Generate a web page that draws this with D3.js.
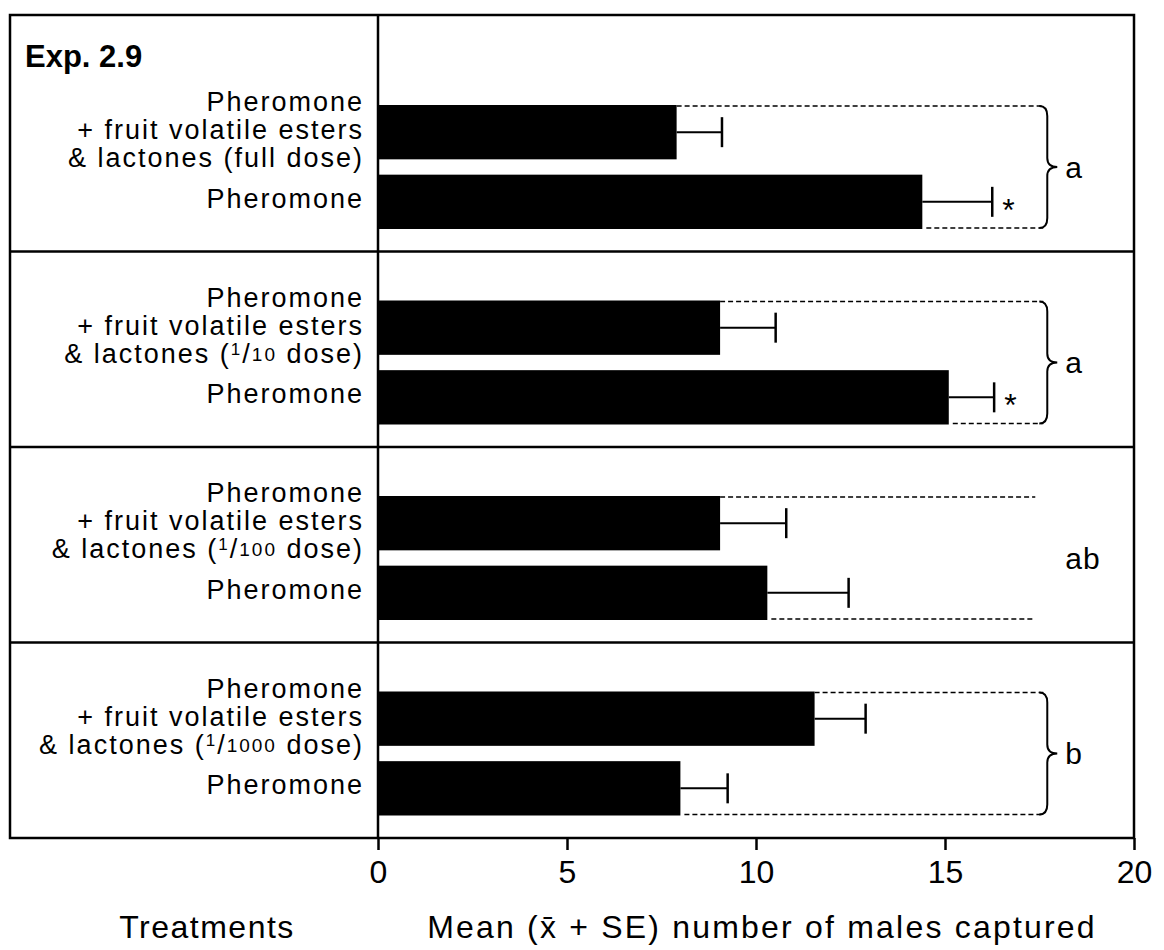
<!DOCTYPE html>
<html>
<head>
<meta charset="utf-8">
<script src="https://cdn.jsdelivr.net/npm/d3@7"></script>
<style>
  html, body { margin: 0; padding: 0; background: #fff; }
  svg { display: block; }
</style>
</head>
<body>
<div id="chart"></div>
<script>
// ---- data ----
const doses = ["full", "1/10", "1/100", "1/1000"];
const blendMean = [7.9, 9.05, 9.05, 11.55];
const blendSE = [1.2, 1.47, 1.75, 1.35];
const pheroMean = [14.4, 15.1, 10.3, 8.0];
const pheroSE = [1.85, 1.2, 2.15, 1.25];
const pheroStar = [true, true, false, false];
const groupLetters = ["a", "a", "ab", "b"];
const hasBrace = [true, true, false, true];
const xTicks = [0, 5, 10, 15, 20];
const braceAt = 17.6; // x value where the dashed guides end

// ---- layout ----
const W = 1164, H = 950;
const frame = { left: 10, right: 1134, top: 15, bottom: 838 };
const headerH = 41;
const FONT = "'Liberation Sans', Arial, Helvetica, sans-serif";

const svg = d3.select("#chart").append("svg")
    .attr("width", W)
    .attr("height", H)
    .style("background", "#fff");

const x = d3.scaleLinear().domain([0, 20]).range([378, frame.right]);

const panelY = d3.scaleBand()
    .domain(d3.range(doses.length))
    .range([frame.top + headerH, frame.bottom])
    .padding(0);

const barY = d3.scaleBand()
    .domain([0, 1])
    .paddingInner(0.22)
    .paddingOuter(0);

const panels = doses.map((dose, i) => {
    const top = i === 0 ? frame.top : panelY(i);
    const start = panelY(i);
    barY.range([start + 49, start + 173]);
    return {
        i, dose, top,
        bars: [
            { mean: blendMean[i], se: blendSE[i], star: false, y: barY(0), h: barY.bandwidth() },
            { mean: pheroMean[i], se: pheroSE[i], star: pheroStar[i], y: barY(1), h: barY.bandwidth() }
        ]
    };
});

// ---- frame & separators ----
const frameG = svg.append("g")
    .attr("stroke", "#000")
    .attr("stroke-width", 2.5)
    .attr("fill", "none");

frameG.append("rect")
    .attr("x", frame.left)
    .attr("y", frame.top)
    .attr("width", frame.right - frame.left)
    .attr("height", frame.bottom - frame.top);

frameG.selectAll("line.sep")
    .data(panels.slice(1))
    .join("line")
    .attr("class", "sep")
    .attr("x1", frame.left).attr("x2", frame.right)
    .attr("y1", d => d.top).attr("y2", d => d.top);

frameG.append("line")
    .attr("x1", x(0)).attr("x2", x(0))
    .attr("y1", frame.top).attr("y2", frame.bottom);

// ---- x axis ----
const axis = svg.append("g")
    .attr("transform", `translate(0,${frame.bottom})`)
    .call(d3.axisBottom(x).tickValues(xTicks).tickSize(12).tickPadding(10).tickFormat(d3.format("d")));
axis.select(".domain").remove();
axis.selectAll(".tick line").attr("stroke", "#000").attr("stroke-width", 2.5);
axis.selectAll(".tick text")
    .attr("fill", "#000")
    .style("font-family", FONT)
    .style("font-size", "32px");

// ---- bars, error bars, guides ----
const plot = svg.append("g");

panels.forEach(p => {
    const g = plot.append("g");
    const [b1, b2] = p.bars;

    g.selectAll("rect")
        .data(p.bars)
        .join("rect")
        .attr("x", x(0))
        .attr("y", d => d.y)
        .attr("width", d => x(d.mean) - x(0))
        .attr("height", d => d.h)
        .attr("fill", "#000");

    // error bars
    g.selectAll("line.err")
        .data(p.bars)
        .join("line")
        .attr("class", "err")
        .attr("x1", d => x(d.mean))
        .attr("x2", d => x(d.mean + d.se))
        .attr("y1", d => d.y + d.h / 2)
        .attr("y2", d => d.y + d.h / 2)
        .attr("stroke", "#000").attr("stroke-width", 2);
    g.selectAll("line.cap")
        .data(p.bars)
        .join("line")
        .attr("class", "cap")
        .attr("x1", d => x(d.mean + d.se))
        .attr("x2", d => x(d.mean + d.se))
        .attr("y1", d => d.y + d.h / 2 - 15)
        .attr("y2", d => d.y + d.h / 2 + 15)
        .attr("stroke", "#000").attr("stroke-width", 2.5);

    g.selectAll("text.star")
        .data(p.bars.filter(d => d.star))
        .join("text")
        .attr("class", "star")
        .attr("x", d => x(d.mean + d.se) + 10)
        .attr("y", d => d.y + d.h / 2 + 19)
        .style("font-family", FONT)
        .style("font-size", "32px")
        .text("*");

    // dashed guides
    const guideEnd = hasBrace[p.i] ? x(braceAt) : x(braceAt) - 8;
    g.append("line")
        .attr("x1", x(b1.mean)).attr("x2", guideEnd)
        .attr("y1", b1.y + 1).attr("y2", b1.y + 1)
        .attr("stroke", "#000").attr("stroke-width", 1.6)
        .attr("stroke-dasharray", "5,3");
    g.append("line")
        .attr("x1", x(b2.mean) + 4).attr("x2", guideEnd)
        .attr("y1", b2.y + b2.h - 1).attr("y2", b2.y + b2.h - 1)
        .attr("stroke", "#000").attr("stroke-width", 1.6)
        .attr("stroke-dasharray", "5,3");

    const top = b1.y + 1, bot = b2.y + b2.h - 1, mid = (top + bot) / 2;
    const bx = x(braceAt);
    if (hasBrace[p.i]) {
        const path = d3.path();
        path.moveTo(bx - 4, top);
        path.quadraticCurveTo(bx + 4, top, bx + 4, top + 10);
        path.lineTo(bx + 4, mid - 9);
        path.quadraticCurveTo(bx + 4, mid, bx + 14, mid);
        path.quadraticCurveTo(bx + 4, mid, bx + 4, mid + 9);
        path.lineTo(bx + 4, bot - 10);
        path.quadraticCurveTo(bx + 4, bot, bx - 4, bot);
        g.append("path")
            .attr("d", path.toString())
            .attr("fill", "none")
            .attr("stroke", "#000")
            .attr("stroke-width", 2);
    }

    g.append("text")
        .attr("x", bx + 22)
        .attr("y", mid)
        .attr("dominant-baseline", "central")
        .style("font-family", FONT)
        .style("font-size", "30px")
        .style("letter-spacing", "1px")
        .text(groupLetters[p.i]);
});

// ---- treatment labels ----
const labelX = 364;
const lineStep = 28;
const labels = svg.append("g")
    .attr("text-anchor", "end")
    .style("font-family", FONT)
    .style("font-size", "27px")
    .style("letter-spacing", "2px")
    .attr("fill", "#000");

panels.forEach(p => {
    const [b1, b2] = p.bars;
    const c1 = b1.y + b1.h / 2 - 2;
    const c2 = b2.y + b2.h / 2 - 3;

    labels.append("text")
        .attr("x", labelX).attr("y", c1 - lineStep)
        .attr("dominant-baseline", "central")
        .text("Pheromone");
    labels.append("text")
        .attr("x", labelX).attr("y", c1)
        .attr("dominant-baseline", "central")
        .text("+ fruit volatile esters");

    const t = labels.append("text")
        .attr("x", labelX).attr("y", c1 + lineStep)
        .attr("dominant-baseline", "central");
    if (p.dose.includes("/")) {
        const [num, den] = p.dose.split("/");
        t.append("tspan").text("& lactones (");
        t.append("tspan").attr("dy", -5).style("font-size", "17px").text(num);
        t.append("tspan").attr("dy", 5).text("/");
        t.append("tspan").style("font-size", "19px").text(den);
        t.append("tspan").text(" dose)");
    } else {
        t.text(`& lactones (${p.dose} dose)`);
    }

    labels.append("text")
        .attr("x", labelX).attr("y", c2)
        .attr("dominant-baseline", "central")
        .text("Pheromone");
});

// ---- experiment label & axis titles ----
svg.append("text")
    .attr("x", 25).attr("y", 67)
    .style("font-family", FONT)
    .style("font-size", "31px")
    .style("font-weight", "bold")
    .text("Exp. 2.9");

svg.append("text")
    .attr("x", 207).attr("y", 938)
    .attr("text-anchor", "middle")
    .style("font-family", FONT)
    .style("font-size", "32px")
    .style("letter-spacing", "1.5px")
    .text("Treatments");

svg.append("text")
    .attr("x", 762).attr("y", 938)
    .attr("text-anchor", "middle")
    .style("font-family", FONT)
    .style("font-size", "32px")
    .style("letter-spacing", "2.2px")
    .text("Mean (x\u0304 + SE) number of males captured");
</script>
</body>
</html>
